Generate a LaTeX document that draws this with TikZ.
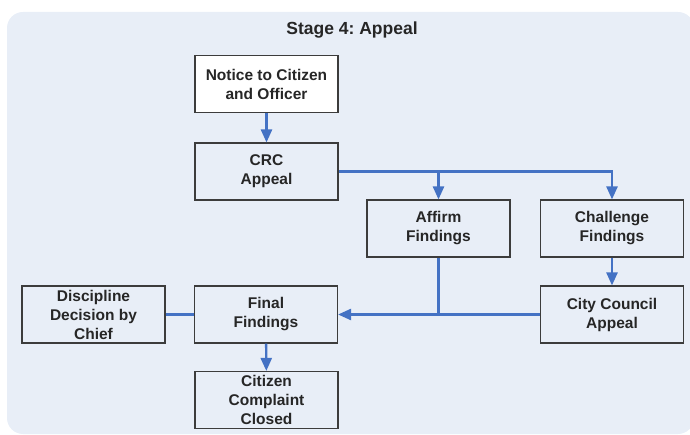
\documentclass[tikz,border=0pt]{standalone}
\usepackage{fontspec}
\setmainfont{Liberation Sans}
\frenchspacing
\usetikzlibrary{arrows.meta}
\definecolor{panelbg}{RGB}{232,238,247}
\definecolor{linkblue}{RGB}{68,114,196}
\definecolor{boxline}{RGB}{60,60,60}
\tikzset{
  stagebox/.style={draw=boxline, line width=1.1pt, fill=panelbg, minimum width=143pt, minimum height=57pt, inner sep=0pt, align=center, font=\fontsize{15.5}{19}\selectfont\bfseries, text=black!85},
  link/.style={draw=linkblue, line width=2.4pt},
  arrowlink/.style={link, -{Triangle[width=11pt,length=13pt]}},
}
\begin{document}
\begin{tikzpicture}[x=1pt,y=-1pt]
\useasboundingbox (0,0) rectangle (690,435);
\begin{scope}
\clip (0,0) rectangle (690,435);
\fill[panelbg, rounded corners=16pt] (7,12) rectangle (694,434);
\end{scope}
\node[font=\fontsize{17.5}{21}\selectfont\bfseries, text=black!85] (title) at (352,30) {Stage 4: Appeal};
\node[stagebox, fill=white] (notice) at (266.5,84) {Notice to Citizen\\and Officer};
\node[stagebox] (crc) at (266.5,171.5) {CRC\\Appeal};
\node[stagebox] (affirm) at (438.5,228.5) {Affirm\\Findings};
\node[stagebox] (challenge) at (612,228.5) {Challenge\\Findings};
\node[stagebox] (discipline) at (93.5,314.5) {Discipline\\Decision by\\Chief};
\node[stagebox] (final) at (266,314.5) {Final\\Findings};
\node[stagebox] (council) at (612,314.5) {City Council\\Appeal};
\node[stagebox] (closed) at (266.5,400) {Citizen\\Complaint\\Closed};
\coordinate (branch) at (438.5,171.5);
\coordinate (join) at (438.5,314.5);
\draw[arrowlink] (notice) -- (crc);
\draw[arrowlink] (crc.east) -| (challenge.north);
\draw[arrowlink] (branch) -- (affirm.north);
\draw[link] (affirm.south) -- (join);
\draw[arrowlink] (council.west) -- (final.east);
\draw[arrowlink] (challenge) -- (council);
\draw[link] (discipline.east) -- (final.west);
\draw[arrowlink] (final) -- (closed);
\end{tikzpicture}
\end{document}
